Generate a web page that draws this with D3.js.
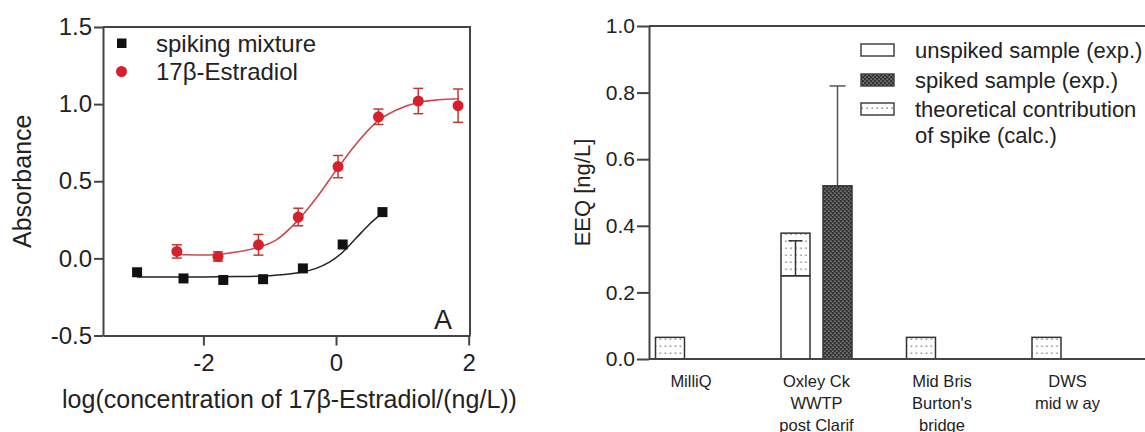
<!doctype html>
<html lang="en">
<head>
<meta charset="UTF-8">
<title>EEQ charts</title>
<script src="https://d3js.org/d3.v7.min.js"></script>
<style>
  body { margin: 0; background: #fff; }
  text { font-family: "Liberation Sans", Arial, sans-serif; fill: #222; }
</style>
</head>
<body>
<div id="chart-area"></div>
<script>
// ---- panel A: dose response ----
const spikeX = [-3.0, -2.3, -1.7, -1.1, -0.5, 0.1, 0.7];
const spikeY = [-0.09, -0.13, -0.14, -0.135, -0.065, 0.09, 0.30];

const e2X = [-2.4, -1.78, -1.17, -0.57, 0.03, 0.64, 1.24, 1.84];
const e2Y = [0.045, 0.012, 0.088, 0.268, 0.595, 0.918, 1.02, 0.99];
const e2Err = [0.043, 0.03, 0.067, 0.057, 0.072, 0.05, 0.082, 0.108];

// fitted curves
const spikeFitX = [-3.0, -2.0, -1.5, -1.0, -0.6, -0.3, -0.1, 0.1, 0.3, 0.5, 0.7];
const spikeFitY = [-0.12, -0.12, -0.118, -0.112, -0.095, -0.065, -0.025, 0.04, 0.13, 0.22, 0.295];
const e2FitX = [-2.4, -2.0, -1.6, -1.2, -0.9, -0.6, -0.3, 0, 0.3, 0.6, 0.9, 1.25, 1.55, 1.85];
const e2FitY = [0.025, 0.022, 0.035, 0.068, 0.12, 0.235, 0.39, 0.57, 0.74, 0.88, 0.96, 1.012, 1.028, 1.035];

const aTicksX = [-2, 0, 2];
const aTicksY = [-0.5, 0, 0.5, 1.0, 1.5];

// ---- panel B: EEQ bars ----
const sites = ["MilliQ", "Oxley Ck\nWWTP\npost Clarif", "Mid Bris\nBurton's\nbridge", "DWS\nmid w ay"];
const unspiked = [0, 0.25, 0, 0];
const unspikedErr = [0, 0.105, 0, 0];
const theoretical = [0.065, 0.128, 0.065, 0.065];
const spiked = [0, 0.52, 0, 0];
const spikedErr = [0, 0.30, 0, 0];
const bTicksY = [0, 0.2, 0.4, 0.6, 0.8, 1.0];
const legendB = ["unspiked sample (exp.)", "spiked sample (exp.)", "theoretical contribution", "of spike (calc.)"];

const W = 1145, H = 432;
const svg = d3.select('#chart-area').append('svg')
    .attr('width', W).attr('height', H);

const defs = svg.append('defs');
const pDot = defs.append('pattern').attr('id', 'dots')
    .attr('patternUnits', 'userSpaceOnUse').attr('width', 5).attr('height', 7);
pDot.append('rect').attr('width', 5).attr('height', 7).attr('fill', '#fff');
pDot.append('rect').attr('x', 1.5).attr('y', 2.5).attr('width', 1.4).attr('height', 1.4).attr('fill', '#777');

const pDense = defs.append('pattern').attr('id', 'dense')
    .attr('patternUnits', 'userSpaceOnUse').attr('width', 4).attr('height', 4);
pDense.append('rect').attr('width', 4).attr('height', 4).attr('fill', '#333');
pDense.append('rect').attr('x', 0.5).attr('y', 0.5).attr('width', 1.2).attr('height', 1.2).attr('fill', '#bbb');
pDense.append('rect').attr('x', 2.5).attr('y', 2.5).attr('width', 1.2).attr('height', 1.2).attr('fill', '#bbb');

const axisCol = '#444';

// ================= panel A =================
const xA = d3.scaleLinear().domain([-3.514, 2.02]).range([103, 470]);
const yA = d3.scaleLinear().domain([-0.5, 1.5]).range([335.5, 27]);

const gA = svg.append('g');

// frame top/right
gA.append('path')
    .attr('d', `M${xA.range()[0]},${yA.range()[1]}H${xA.range()[1]}V${yA.range()[0]}`)
    .attr('fill', 'none').attr('stroke', axisCol).attr('stroke-width', 2);

const axA_x = gA.append('g').attr('transform', `translate(0,${yA.range()[0]})`)
    .call(d3.axisBottom(xA).tickValues(aTicksX).tickSize(10).tickSizeOuter(0).tickPadding(8)
        .tickFormat(d => d < 0 ? '-' + Math.abs(d) : d));
const axA_y = gA.append('g').attr('transform', `translate(${xA.range()[0]},0)`)
    .call(d3.axisLeft(yA).tickValues(aTicksY).tickSize(9).tickSizeOuter(0).tickPadding(2)
        .tickFormat(d => d < 0 ? '-' + Math.abs(d).toFixed(1) : d.toFixed(1)));
[axA_x, axA_y].forEach(a => {
  a.selectAll('path, line').attr('stroke', axisCol).attr('stroke-width', 2);
  a.selectAll('text').style('font-size', '24px').attr('fill', '#222');
});

gA.append('text').attr('x', (xA.range()[0] + xA.range()[1]) / 2 + 3).attr('y', 408)
    .attr('text-anchor', 'middle').style('font-size', '25px')
    .text('log(concentration of 17β-Estradiol/(ng/L))');
gA.append('text').attr('transform', `translate(31,${(yA.range()[0] + yA.range()[1]) / 2})rotate(-90)`)
    .attr('text-anchor', 'middle').style('font-size', '25px').text('Absorbance');
gA.append('text').attr('x', 434).attr('y', 329).style('font-size', '27px').text('A');

const line = d3.line().x(d => xA(d[0])).y(d => yA(d[1])).curve(d3.curveMonotoneX);
gA.append('path').datum(d3.zip(spikeFitX, spikeFitY)).attr('d', line)
    .attr('fill', 'none').attr('stroke', '#222').attr('stroke-width', 1.5);
gA.append('path').datum(d3.zip(e2FitX, e2FitY)).attr('d', line)
    .attr('fill', 'none').attr('stroke', '#c94a50').attr('stroke-width', 1.6);

const red = '#d81f2c';
const e2 = e2X.map((x, i) => ({ x, y: e2Y[i], e: e2Err[i] }));
const eb = gA.append('g').attr('stroke', '#c0392f').attr('stroke-width', 1.5);
eb.selectAll('line.v').data(e2).enter().append('line')
    .attr('x1', d => xA(d.x)).attr('x2', d => xA(d.x))
    .attr('y1', d => yA(d.y - d.e)).attr('y2', d => yA(d.y + d.e));
eb.selectAll('line.t').data(e2).enter().append('line')
    .attr('x1', d => xA(d.x) - 5).attr('x2', d => xA(d.x) + 5)
    .attr('y1', d => yA(d.y + d.e)).attr('y2', d => yA(d.y + d.e));
eb.selectAll('line.b').data(e2).enter().append('line')
    .attr('x1', d => xA(d.x) - 5).attr('x2', d => xA(d.x) + 5)
    .attr('y1', d => yA(d.y - d.e)).attr('y2', d => yA(d.y - d.e));
gA.selectAll('circle.e2').data(e2).enter().append('circle')
    .attr('cx', d => xA(d.x)).attr('cy', d => yA(d.y)).attr('r', 5.5).attr('fill', red);

gA.selectAll('rect.sp').data(d3.zip(spikeX, spikeY)).enter().append('rect')
    .attr('x', d => xA(d[0]) - 5).attr('y', d => yA(d[1]) - 5)
    .attr('width', 10).attr('height', 10).attr('fill', '#111');

// legend A
gA.append('rect').attr('x', 117).attr('y', 38.5).attr('width', 9.5).attr('height', 9.5).attr('fill', '#111');
gA.append('circle').attr('cx', 121.5).attr('cy', 71.5).attr('r', 5.5).attr('fill', red);
gA.append('text').attr('x', 156).attr('y', 52).style('font-size', '24px').text('spiking mixture');
gA.append('text').attr('x', 156).attr('y', 80).style('font-size', '24px').text('17β-Estradiol');

// ================= panel B =================
const yB = d3.scaleLinear().domain([0, 1]).range([359, 26]);
const axisXB = 649;
const x0 = d3.scaleBand().domain(sites).range([628.25, 628.25 + 4 * 125.5]).padding(0);
const x1 = d3.scaleBand().domain(['a', 'b'])
    .range([x0.bandwidth() / 2 - 35.5, x0.bandwidth() / 2 + 35.5]).paddingInner(0.31);

const gB = svg.append('g');

gB.append('path').attr('d', `M${axisXB},${yB(1)}H${W}`)
    .attr('stroke', axisCol).attr('stroke-width', 2).attr('fill', 'none');

const groups = gB.selectAll('g.site').data(sites).enter().append('g')
    .attr('transform', d => `translate(${x0(d)},0)`);

const bw = x1.bandwidth();
groups.each(function (s, i) {
  const g = d3.select(this);
  if (unspiked[i] > 0) {
    g.append('rect').attr('x', x1('a')).attr('width', bw)
        .attr('y', yB(unspiked[i])).attr('height', yB(0) - yB(unspiked[i]))
        .attr('fill', '#fff').attr('stroke', '#333').attr('stroke-width', 1.5);
  }
  g.append('rect').attr('x', x1('a')).attr('width', bw)
      .attr('y', yB(unspiked[i] + theoretical[i])).attr('height', yB(unspiked[i]) - yB(unspiked[i] + theoretical[i]))
      .attr('fill', 'url(#dots)').attr('stroke', '#333').attr('stroke-width', 1.5);
  if (unspikedErr[i] > 0) {
    const cx = x1('a') + bw / 2;
    g.append('line').attr('x1', cx).attr('x2', cx)
        .attr('y1', yB(unspiked[i])).attr('y2', yB(unspiked[i] + unspikedErr[i]))
        .attr('stroke', '#333').attr('stroke-width', 1.5);
    g.append('line').attr('x1', cx - 7).attr('x2', cx + 7)
        .attr('y1', yB(unspiked[i] + unspikedErr[i])).attr('y2', yB(unspiked[i] + unspikedErr[i]))
        .attr('stroke', '#333').attr('stroke-width', 1.5);
  }
  if (spiked[i] > 0) {
    const cx = x1('b') + bw / 2;
    g.append('line').attr('x1', cx).attr('x2', cx)
        .attr('y1', yB(spiked[i])).attr('y2', yB(spiked[i] + spikedErr[i]))
        .attr('stroke', '#555').attr('stroke-width', 1.5);
    g.append('line').attr('x1', cx - 8).attr('x2', cx + 8)
        .attr('y1', yB(spiked[i] + spikedErr[i])).attr('y2', yB(spiked[i] + spikedErr[i]))
        .attr('stroke', '#555').attr('stroke-width', 1.5);
    g.append('rect').attr('x', x1('b')).attr('width', bw)
        .attr('y', yB(spiked[i])).attr('height', yB(0) - yB(spiked[i]))
        .attr('fill', 'url(#dense)').attr('stroke', '#333').attr('stroke-width', 1.5);
  }
});

const axB_y = gB.append('g').attr('transform', `translate(${axisXB},0)`)
    .call(d3.axisLeft(yB).tickValues(bTicksY).tickSize(12).tickSizeOuter(0).tickPadding(2)
        .tickFormat(d => d.toFixed(1)));
axB_y.selectAll('path, line').attr('stroke', axisCol).attr('stroke-width', 2);
axB_y.selectAll('text').style('font-size', '21px').attr('fill', '#222');

const axB_x = gB.append('g').attr('transform', `translate(0,${yB(0)})`)
    .call(d3.axisBottom(x0).tickSize(0).tickPadding(16));
axB_x.select('.domain').remove();
axB_x.selectAll('.tick text').each(function (d) {
  const t = d3.select(this).text(null).attr('fill', '#333').style('font-size', '16.5px');
  d.split('\n').forEach((l, k) => {
    const ts = t.append('tspan').attr('x', 0).text(l);
    if (k) ts.attr('dy', '1.33em');
  });
});
gB.append('path').attr('d', `M${axisXB},${yB(0)}H${W}`)
    .attr('stroke', axisCol).attr('stroke-width', 2);

gB.append('text').attr('transform', `translate(590,${(yB(0) + yB(1)) / 2})rotate(-90)`)
    .attr('text-anchor', 'middle').style('font-size', '22px').text('EEQ [ng/L]');

// legend B
const legFill = ['#fff', 'url(#dense)', 'url(#dots)'];
const legY = [50, 80, 109];
legFill.forEach((f, i) => {
  gB.append('rect').attr('x', 861).attr('y', legY[i] - 6).attr('width', 33).attr('height', 12)
      .attr('fill', f).attr('stroke', '#444').attr('stroke-width', 1.5);
});
legendB.forEach((t, i) => {
  gB.append('text').attr('x', 915).attr('y', i < 3 ? legY[i] + 8 : 143)
      .style('font-size', '22px').text(t);
});
</script>
</body>
</html>
